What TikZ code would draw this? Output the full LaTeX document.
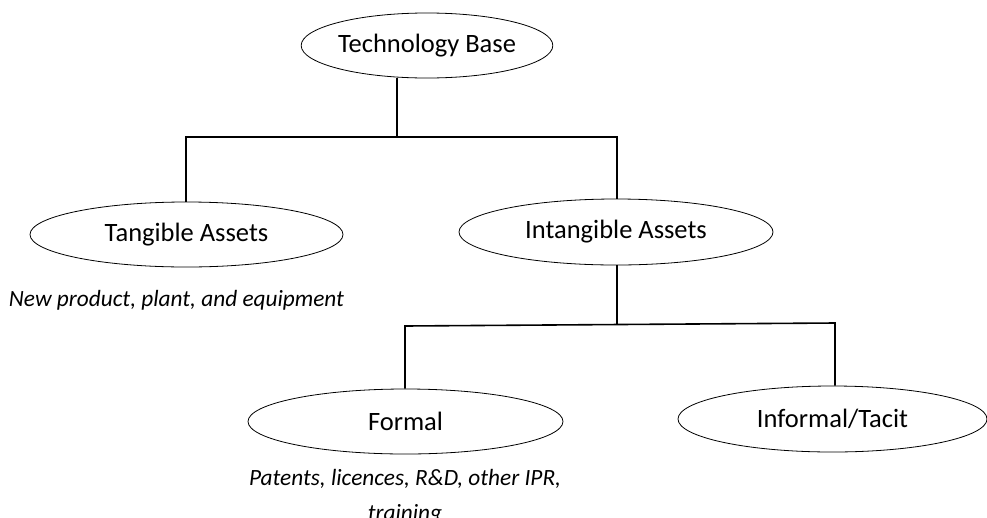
\documentclass[tikz,border=0pt]{standalone}
\usepackage{fontspec}
\setmainfont{Carlito}
\usetikzlibrary{positioning, shapes.geometric}

\begin{document}
\begin{tikzpicture}[
  x=1pt, y=-1pt,
  asset/.style={ellipse, draw, line width=0.8pt, inner sep=0pt, minimum height=65pt, font=\fontsize{26.5}{31}\selectfont},
  note/.style={align=center, inner sep=0pt, font=\fontsize{23.3}{35}\selectfont\itshape},
  link/.style={draw, line width=1.6pt}
]
\useasboundingbox (0,0) rectangle (987,517);
\node[asset, minimum width=250pt] (tech) at (427,45.5) {Technology Base};
\node[asset, minimum width=313pt] (tang) at (186.5,234.5) {Tangible Assets};
\node[asset, minimum width=314pt, minimum height=66pt] (intang) at (616,232) {Intangible Assets};
\node[asset, minimum width=315pt] (formal) at (405.5,421.5) {Formal};
\node[asset, minimum width=309pt, minimum height=66pt] (informal) at (832.5,419) {Informal/Tacit};
\node[note, anchor=base] (tangnote) at (176.5,306) {New product, plant, and equipment};
\node[note, anchor=base] (formalnote) at (405,520) {Patents, licences, R\&D, other IPR,\\training};
% junctions of the tree
\coordinate (top) at (397,137);
\coordinate (topL) at (186,137);
\coordinate (topR) at (617,137);
\coordinate (mid) at (617,325);
\coordinate (midL) at (405,326);
\coordinate (midR) at (835,323);
\draw[link] (tech.south -| top) -- (top);
\draw[link] (tang.north -| topL) -- (topL) -- (topR) -- (intang.north -| topR);
\draw[link] (intang.south -| mid) -- (mid);
\draw[link] (formal.north -| midL) -- (midL) -- (midR) -- (informal.north -| midR);
\end{tikzpicture}
\end{document}
